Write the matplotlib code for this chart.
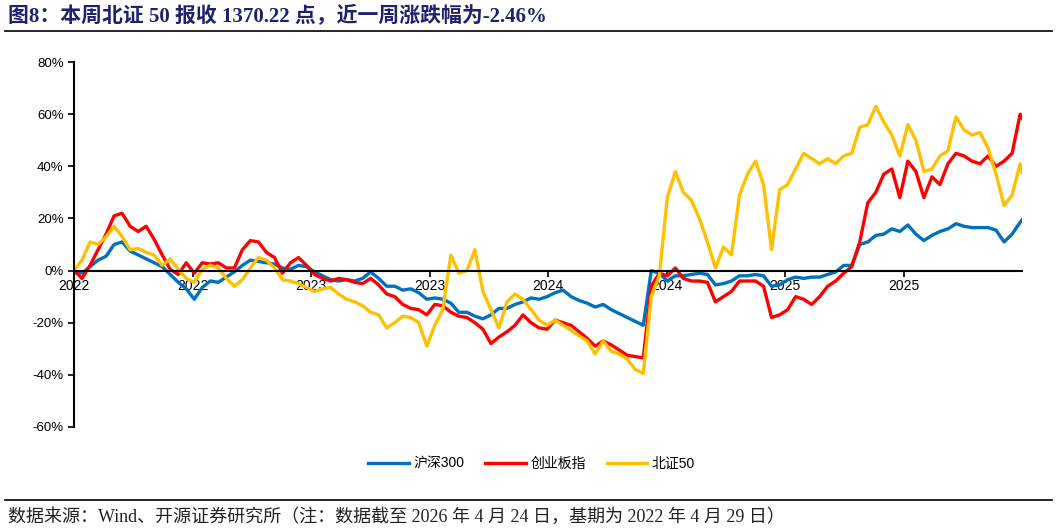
import matplotlib
matplotlib.use('Agg')
import matplotlib.pyplot as plt
from matplotlib.ticker import FuncFormatter

# trading-day index (roughly one day per sample column)
days = list(range(0, 945, 8)) + [946]

hs300 = [0, -1, 1.5, 4, 5.5, 10, 11, 7.5, 6, 4.5,
         3, 1.5, -1.5, -4.5, -7, -11, -6.5, -4, -4.5, -2.5,
         -0.5, 2, 4, 3.5, 3, 2.5, 1, 0.5, 2, 1.5,
         -0.5, -2, -3.5, -4, -3.5, -4, -3, -0.5, -3, -6,
         -6, -7.5, -7, -8.5, -11, -10.5, -11, -12.5, -16, -16,
         -17.5, -18.5, -17, -14.5, -14.5, -13, -12, -10.5, -11, -10,
         -8.5, -7.5, -10, -11.5, -12.5, -14, -13, -15, -16.5, -18,
         -19.5, -21, 0, -1, -4, -2, -2, -1.5, -1, -1.5,
         -5.5, -5, -4, -2, -2, -1.5, -2, -6, -5.5, -3.5,
         -2.5, -3, -2.5, -2.5, -1.5, -0.5, 2, 2, 10, 11,
         13.5, 14, 16, 15, 17.5, 14, 11.5, 13.5, 15, 16,
         18, 17, 16.5, 16.5, 16.5, 15.5, 11, 14, 18.5, 19.5]

cyb = [0, -3, 2, 8, 14, 21, 22, 17, 15, 17,
       12, 6, 0.5, -1.5, 3, -1, 3, 2.5, 3, 1,
       1, 8, 11.5, 11, 7, 5, -1, 3, 5, 2,
       -1.5, -3, -4, -3, -3.5, -4.5, -5, -3, -5.5, -9,
       -10, -13, -14.5, -15, -17, -13, -13.5, -16, -17.5, -18,
       -20, -22.5, -28, -25.5, -23.5, -21, -17, -20, -22, -22.5,
       -19, -20, -21, -23.5, -26, -29, -27, -28.5, -30.5, -32.5,
       -33, -33.5, -6, -1, -2, 1, -3, -4, -4, -4.5,
       -12, -10, -8, -4, -4, -4, -6, -18, -17, -15,
       -10, -11, -13, -10, -6, -4, -1, 1.5, 11, 26,
       30, 37, 39, 28, 42, 38, 28, 36, 33, 41,
       45, 44, 42, 41, 44, 40, 42, 45, 60, 58.5]

bz50 = [0, 4, 11, 10, 13, 17, 13, 8, 8.5, 7,
        6, 2, 4.5, 0.5, -3, -4.5, 0.5, 2, 1, -3,
        -6, -3.5, 1, 5, 4, 1, -3.5, -4, -5, -6.5,
        -8, -7, -6.5, -9, -11, -12, -13.5, -16, -17, -22,
        -20, -17.5, -18, -20, -29, -21, -15, 6, -1, 0,
        8, -8, -15, -22, -12, -9, -11, -15, -19, -21,
        -19, -21, -23, -25, -27, -32, -27, -31, -32, -34,
        -38, -39.5, -10, -2, 28, 38, 30, 27, 20, 11,
        1, 9, 6, 29, 37, 42, 33, 8, 31, 33,
        39, 45, 43, 41, 43, 41, 44, 45, 55, 56,
        63, 57, 52, 44, 56, 50, 38, 39, 44, 46,
        59, 54, 52, 53, 47, 37, 25, 29, 41, 37.5]

names = ['沪深300', '创业板指', '北证50']
colors = ['#0070C0', '#FF0000', '#FFC000']
xlabels = ['2022', '2022', '2023', '2023', '2024', '2024', '2025', '2025']

title = '图8：本周北证 50 报收 1370.22 点，近一周涨跌幅为-2.46%'
source = '数据来源：Wind、开源证券研究所（注：数据截至 2026 年 4 月 24 日，基期为 2022 年 4 月 29 日）'

plt.rcParams['font.family'] = ['Liberation Sans', 'Noto Sans CJK SC']

fig = plt.figure(figsize=(10.57, 5.31), dpi=100)
ax = fig.add_axes([0.070, 0.196, 0.897, 0.687])

for vals, name, c in zip([hs300, cyb, bz50], names, colors):
    ax.plot(days, vals, color=c, lw=2.4, label=name, solid_joinstyle='round')

ax.set_xlim(0, 946)
ax.set_ylim(-60, 80)
ax.set_yticks(range(-60, 81, 20))
ax.yaxis.set_major_formatter(FuncFormatter(lambda v, p: '%d%%' % v))

step = 946 / 8
ax.set_xticks([step * i for i in range(len(xlabels))])
ax.set_xticklabels(xlabels)

for s in ['top', 'right']:
    ax.spines[s].set_visible(False)
ax.spines['bottom'].set_position(('data', 0))
ax.spines['bottom'].set_linewidth(1.5)
ax.spines['bottom'].set_zorder(5)
ax.spines['left'].set_linewidth(1.5)

ax.tick_params(axis='both', direction='out', length=4, width=1.2, labelsize=9.5, colors='black')
ax.tick_params(axis='x', pad=2, labelsize=10)

fig.legend(loc='center', bbox_to_anchor=(0.503, 0.127), ncol=3, frameon=False,
           fontsize=10, handlelength=2.9, columnspacing=1.5, handletextpad=0.35)

serif = ['Liberation Serif', 'Noto Sans CJK SC']
fig.text(0.008, 0.969, title, fontsize=15, fontweight='bold', color='#1F2070',
         va='center', ha='left', family=serif)
fig.add_artist(plt.Line2D([0.005, 0.995], [0.941, 0.941], color='black', lw=1.2))
fig.add_artist(plt.Line2D([0.005, 0.995], [0.058, 0.058], color='black', lw=1.2))
fig.text(0.008, 0.027, source, fontsize=13, color='#222222', va='center', ha='left',
         family=serif)

fig.savefig('out.png', dpi=100)
